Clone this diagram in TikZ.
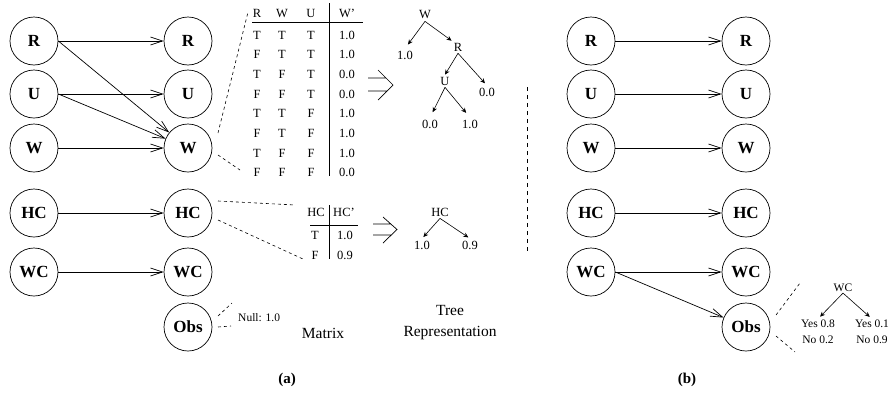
\documentclass[tikz,border=0pt]{standalone}
\usepackage{fontspec}
\setmainfont{Liberation Serif}
\usetikzlibrary{arrows.meta}
\begin{document}
\begin{tikzpicture}[x=1pt,y=-1pt,
  var/.style={draw,circle,minimum size=48pt,inner sep=0pt,line width=0.7pt,font=\fontsize{17}{18}\selectfont\bfseries},
  arr/.style={line width=0.7pt,-{Straight Barb[length=12pt,width=8pt,line width=0.7pt]}},
  tarr/.style={line width=0.6pt,-{Stealth[length=5pt,width=4.5pt]}},
  dsh/.style={line width=0.6pt,dash pattern=on 3pt off 3pt},
  tab/.style={font=\fontsize{12.5}{13}\selectfont,inner sep=0pt},
  tl/.style={font=\fontsize{12.5}{13}\selectfont,inner sep=2pt},
  sl/.style={font=\fontsize{11.5}{12}\selectfont,inner sep=1pt},
  captxt/.style={font=\fontsize{15.5}{18}\selectfont,align=center,inner sep=0pt},
  lab/.style={font=\fontsize{15}{16}\selectfont\bfseries,inner sep=0pt}]
\useasboundingbox (0,0) rectangle (889,394);

% ---- (a) nodes
\foreach \n/\t/\y in {R/R/41,U/U/94,W/W/148,HC/HC/213,WC/WC/272}{
  \node[var] (a1\n) at (34,\y) {\t};
  \node[var] (a2\n) at (188,\y) {\t};
}
\node[var] (a2Obs) at (188,327) {Obs};

\draw[arr] (a1R) -- (a2R);
\draw[arr] (a1R.east) -- (a2W);
\draw[arr] (a1U) -- (a2U);
\draw[arr] (a1U.east) -- (a2W);
\draw[arr] (a1W) -- (a2W);
\draw[arr] (a1HC) -- (a2HC);
\draw[arr] (a1WC) -- (a2WC);

% ---- W table
\node[tab] (hR) at (257,13) {R};
\node[tab] (hW) at (282,13) {W};
\node[tab] (hU) at (311,13) {U};
\node[tab] (hWp) at (347,13) {W'};
\coordinate (tl1) at (252,22);
\coordinate (tl2) at (363,22);
\coordinate (tv1) at (329,3);
\coordinate (tv2) at (329,176);
\draw[line width=0.7pt] (tl1) -- (tl2);
\draw[line width=0.7pt] (tv1) -- (tv2);
\foreach \a/\b/\c/\v [count=\i] in {T/T/T/1.0,F/T/T/1.0,T/F/T/0.0,F/F/T/0.0,T/T/F/1.0,F/T/F/1.0,T/F/F/1.0,F/F/F/0.0}{
  \pgfmathsetmacro\yy{35+(\i-1)*19.7}
  \node[tab] at (257,\yy) {\a};
  \node[tab] at (282,\yy) {\b};
  \node[tab] at (311,\yy) {\c};
  \node[tab] at (347,\yy) {\v};
}
\coordinate (ws1) at (218,133);
\coordinate (wd1) at (248,12);
\coordinate (ws2) at (218,155);
\coordinate (wd2) at (240,170);
\draw[dsh] (ws1) -- (wd1);
\draw[dsh] (ws2) -- (wd2);

% ---- double arrow 1
\draw[line width=0.7pt] (368,78) -- (386,78) (368,91) -- (387,91) (378,70) -- (393,85) -- (378,100);

% ---- W tree
\node[tl] (tW) at (425,15) {W};
\node[tl] (t1) at (405,55) {1.0};
\node[tl] (tR) at (458,47) {R};
\node[tl] (tU) at (445,81) {U};
\node[tl] (t00a) at (487,92) {0.0};
\node[tl] (t00b) at (430,124) {0.0};
\node[tl] (t10b) at (470,124) {1.0};
\draw[tarr,shorten >=5pt] (tW.south) -- (t1.north);
\draw[tarr] (tW.south) -- (tR.north west);
\draw[tarr] (tR.south) -- (tU.north);
\draw[tarr,shorten >=3pt] (tR.south) -- (t00a.north);
\draw[tarr,shorten >=6pt] (tU.south) -- (t00b.north);
\draw[tarr,shorten >=6pt] (tU.south) -- (t10b.north);

% ---- vertical separator
\coordinate (sep1) at (527,87);
\coordinate (sep2) at (527,252);
\draw[line width=0.6pt,dash pattern=on 4pt off 4pt] (sep1) -- (sep2);

% ---- HC table
\node[tab] (hHC) at (316,212) {HC};
\node[tab] (hHCp) at (344,212) {HC'};
\coordinate (hl1) at (310,225);
\coordinate (hl2) at (358,225);
\coordinate (hv1) at (329,205);
\coordinate (hv2) at (329,259);
\draw[line width=0.7pt] (hl1) -- (hl2);
\draw[line width=0.7pt] (hv1) -- (hv2);
\node[tab] (hT) at (315,235) {T};
\node[tab] (hT1) at (345,235) {1.0};
\node[tab] (hF) at (315,255) {F};
\node[tab] (hF1) at (345,255) {0.9};
\coordinate (hs1) at (218,201);
\coordinate (hd1) at (295,205);
\coordinate (hs2) at (218,220);
\coordinate (hd2) at (303,259);
\draw[dsh] (hs1) -- (hd1);
\draw[dsh] (hs2) -- (hd2);

% ---- double arrow 2
\draw[line width=0.7pt] (373,224) -- (391,224) (373,235) -- (391,235) (383,217) -- (397,229.5) -- (383,243);

% ---- HC tree
\node[tl] (tHC) at (440,212) {HC};
\node[tl] (th1) at (422,245) {1.0};
\node[tl] (th2) at (470,245) {0.9};
\draw[tarr,shorten >=2pt] (tHC.south) -- (th1.north);
\draw[tarr,shorten >=2pt] (tHC.south) -- (th2.north);

% ---- Obs null
\node[sl,anchor=west] (null) at (237,318) {Null: 1.0};
\coordinate (os1) at (218,316);
\coordinate (od1) at (232,303);
\coordinate (os2) at (218,327);
\coordinate (od2) at (231,326);
\draw[dsh] (os1) -- (od1);
\draw[dsh] (os2) -- (od2);

% ---- captions
\node[captxt] (mat) at (323,333) {Matrix};
\node[captxt] (tree) at (450,323) {Tree\\[3pt]Representation};
\node[lab] (la) at (287,380) {(a)};
\node[lab] (lb) at (687,380) {(b)};

% ---- (b) nodes
\foreach \n/\t/\y in {R/R/41,U/U/94,W/W/148,HC/HC/213,WC/WC/272}{
  \node[var] (b1\n) at (591,\y) {\t};
  \node[var] (b2\n) at (746,\y) {\t};
  \draw[arr] (b1\n) -- (b2\n);
}
\node[var] (b2Obs) at (746,327) {Obs};
\draw[arr] (b1WC.east) -- (b2Obs);

% ---- WC tree
\node[sl] (tWC) at (843,288) {WC};
\node[sl,align=center] (ty1) at (818,332) {Yes 0.8\\[4pt]No 0.2};
\node[sl,align=center] (ty2) at (872,332) {Yes 0.1\\[4pt]No 0.9};
\draw[tarr,shorten >=3pt] (tWC.south) -- (ty1.north);
\draw[tarr,shorten >=3pt] (tWC.south) -- (ty2.north);
\coordinate (bs1) at (776,315);
\coordinate (bd1) at (800,283);
\coordinate (bs2) at (776,336);
\coordinate (bd2) at (795,352);
\draw[dsh] (bs1) -- (bd1);
\draw[dsh] (bs2) -- (bd2);
\end{tikzpicture}
\end{document}
